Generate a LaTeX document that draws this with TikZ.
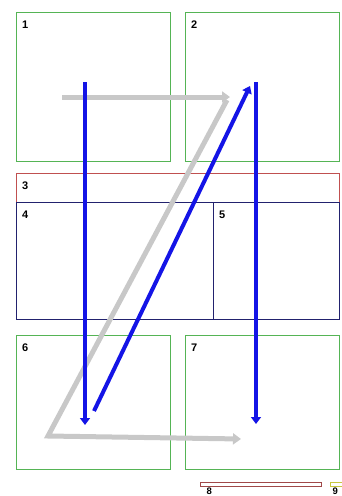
\documentclass[tikz,border=0pt]{standalone}
\usepackage{fontspec}
\setmainfont{Liberation Sans}
\usetikzlibrary{arrows.meta,positioning}
\definecolor{gruen}{HTML}{55B455}
\definecolor{rot}{HTML}{C05050}
\definecolor{marine}{HTML}{22226E}
\definecolor{braun}{HTML}{A04848}
\definecolor{gelb}{HTML}{C8C840}
\definecolor{blau}{HTML}{1414E6}
\definecolor{grau}{HTML}{C8C8C8}
\tikzset{
  feld/.style={draw=gruen,line width=1pt,inner sep=0pt,anchor=north west},
  kopf/.style={feld,draw=rot},
  teil/.style={feld,draw=marine},
  nr/.style={font=\fontsize{11}{11}\selectfont\bfseries,inner sep=0pt,anchor=north west},
  knr/.style={nr,font=\fontsize{9.5}{10}\selectfont\bfseries},
  pfeil/.style={-{Triangle[length=7pt,width=10pt]},blau,line width=4pt},
  gpfeil/.style={-{Triangle[length=8pt,width=11pt]},grau,line width=5pt},
}
\begin{document}
\begin{tikzpicture}[x=1pt,y=-1pt]
  \useasboundingbox (0,0) rectangle (341,496);
  % fields
  \node[feld,minimum width=154pt,minimum height=149pt] (f1) at (16,12) {};
  \node[feld,minimum width=154pt,minimum height=149pt] (f2) at (185,12) {};
  \node[kopf,minimum width=323pt,minimum height=28.5pt] (f3) at (16,173) {};
  \node[teil,minimum width=197pt,minimum height=117pt] (f4) at (16,201.5) {};
  \node[teil,minimum width=126pt,minimum height=117pt] (f5) at (213,201.5) {};
  \node[feld,minimum width=154pt,minimum height=134pt] (f6) at (16,335) {};
  \node[feld,minimum width=154pt,minimum height=134pt] (f7) at (185,335) {};
  \node[feld,draw=braun,minimum width=121pt,minimum height=4pt] (f8) at (200,482) {};
  \node[feld,draw=gelb,minimum width=14pt,minimum height=4pt] (f9) at (329.5,482) {};
  \foreach \f in {1,...,7}
    \node[nr] at ([xshift=6pt,yshift=-9pt]f\f.north west) {\f};
  \node[knr] at ([xshift=6.5pt,yshift=-0.8pt]f8.south west) {8};
  \node[knr] at ([xshift=3pt,yshift=-0.8pt]f9.south west) {9};
  % reading order
  \coordinate (g1) at (62,97);
  \coordinate (g2) at (230,97);
  \coordinate (g3) at (227,100);
  \coordinate (g4) at (48,436);
  \coordinate (g5) at (241,439);
  \draw[gpfeil] (g1) -- (g2);
  \draw[gpfeil] (g3) -- (g4) -- (g5);
  \coordinate (b1) at (85,82);
  \coordinate (b2) at (85,425);
  \coordinate (b3) at (94,411);
  \coordinate (b4) at (250,86);
  \coordinate (b5) at (256,82);
  \coordinate (b6) at (256,424);
  \draw[pfeil] (b1) -- (b2);
  \draw[pfeil] (b3) -- (b4);
  \draw[pfeil] (b5) -- (b6);
\end{tikzpicture}
\end{document}
